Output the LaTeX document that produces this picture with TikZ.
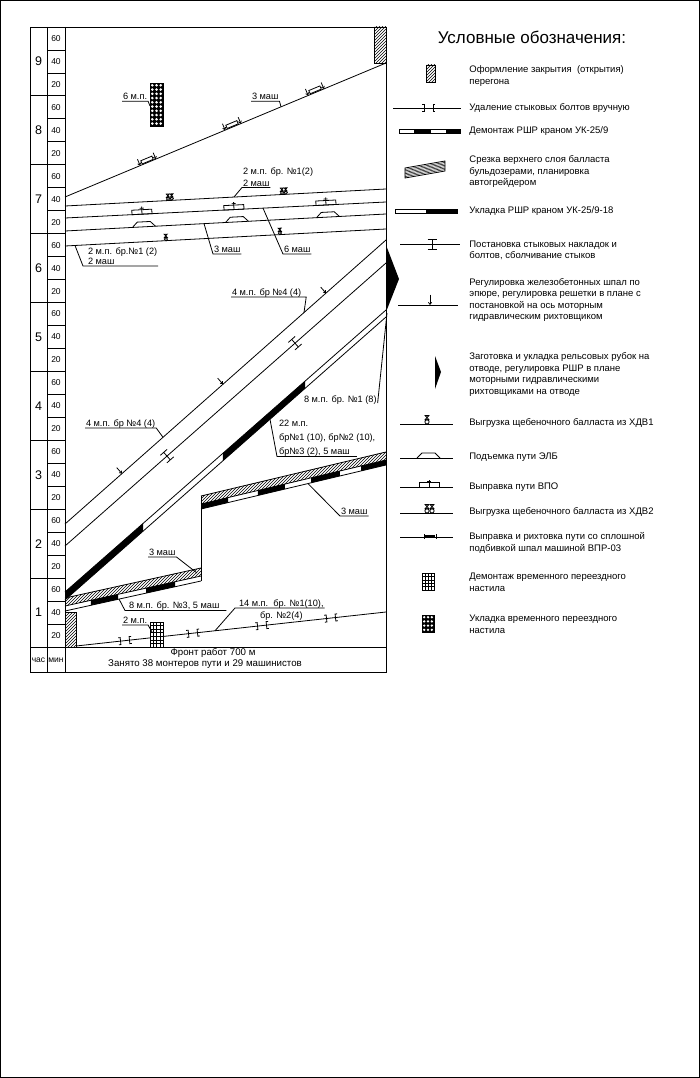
\documentclass[tikz,border=0pt]{standalone}
\usepackage{fontspec}
\setmainfont{Liberation Sans}
\usetikzlibrary{calc,patterns,arrows.meta}
\newcommand\bwseg[6]{\fill ($(#1)!#5!(#2)$) -- ($(#1)!#6!(#2)$) -- ($(#3)!#6!(#4)$) -- ($(#3)!#5!(#4)$) -- cycle;}
\tikzset{
  lbl/.style={font=\fontsize{9.2}{11}\selectfont, inner sep=0.6pt, anchor=base west},
  leg/.style={font=\fontsize{9.5}{11.5}\selectfont, inner sep=0pt, anchor=west, align=left},
  hr/.style={font=\fontsize{12.5}{14}\selectfont, inner sep=0pt},
  mn/.style={font=\fontsize{8.5}{10}\selectfont, inner sep=0pt},
  bot/.style={font=\fontsize{9.7}{11}\selectfont, inner sep=0pt},
  barb/.style={-{Straight Barb[length=2pt,width=3.2pt]}},
  pics/xdv/.style={code={
     \draw (0,-2.1) circle[radius=2.1];
     \draw (-2,-8.6) -- (2,-8.6) -- (-2,-4.2) -- (2,-4.2) -- cycle;}},
  pics/xdvtwo/.style={code={
     \foreach \s in {-2.5,2.5}{
       \draw (\s,-2.1) circle[radius=2.1];
       \draw ({\s-2},-8.6) -- ({\s+2},-8.6) -- ({\s-2},-4.2) -- ({\s+2},-4.2) -- cycle;}}},
  pics/elb/.style={code={\draw (-11.5,0) -- (-6.5,-5) -- (6.5,-5) -- (11.5,0);}},
  pics/vpo/.style={code={
     \draw (-10,0) rectangle (10,-4.5);
     \draw (0,0) -- (0,-7.5);
     \draw (-2,-6) -- (2,-6);}},
  pics/bolt/.style={code={
     \draw (-6.5,-3.5) -- (-4.5,-3.5) -- (-4.5,3.5) -- (-6.5,3.5);
     \draw (6.5,-3.5) -- (4.5,-3.5) -- (4.5,3.5) -- (6.5,3.5);}},
  pics/ibar/.style={code={
     \draw (0,-5) -- (0,5); \draw (-4.5,-5) -- (4.5,-5); \draw (-4.5,5) -- (4.5,5);}},
  pics/regarr/.style={code={\draw[barb] (0,-8) -- (0,0);}},
  pics/vprc/.style={code={
     \draw[barb] (-8.5,-7) -- (-8.5,0);
     \draw[barb] (8.5,-7) -- (8.5,0);
     \draw (-6,-0.8) rectangle (6,-4.3);}},
  pics/vprl/.style={code={
     \draw (-6,-3) -- (-6,1.5); \draw (6,-3) -- (6,1.5);
     \fill (-5,-0.2) rectangle (5,-2.2);}},
}
\begin{document}
\begin{tikzpicture}[x=1pt,y=-1pt,line width=0.8pt]
\useasboundingbox (0,0) rectangle (700,1078);
\draw[line width=0.6pt] (0.5,0.5) rectangle (699.5,1077.5);

% ---------- grid frame ----------
\draw (30,27) rectangle (386,672);
\draw (47,27) -- (47,672);
\draw (65,27) -- (65,672);
\draw (30,647) -- (386,647);
\foreach \i in {1,...,26}{\draw (47,{647-\i*22.963}) -- (65,{647-\i*22.963});}
\foreach \k in {1,...,8}{\draw (30,{647-\k*68.889}) -- (47,{647-\k*68.889});}
\foreach \k in {1,...,9}{
  \pgfmathsetmacro\yb{647-(\k-1)*68.889}
  \node[hr] (hour\k) at (38.5,{\yb-34.44}) {\k};
  \node[mn] (mA\k) at (56,{\yb-11.48}) {20};
  \node[mn] (mB\k) at (56,{\yb-34.44}) {40};
  \node[mn] (mC\k) at (56,{\yb-57.41}) {60};
}
\node[mn] (chas) at (38.5,660) {час};
\node[mn] (minut) at (56,660) {мин};
\node[bot] (front) at (213,652.5) {Фронт работ 700 м};
\node[bot] (busy) at (205,664) {Занято 38 монтеров пути и 29 машинистов};

% ---------- hatched boxes ----------
\draw[pattern=north east lines] (65,612) rectangle (76,647);
\draw[pattern=north east lines] (374,27) rectangle (386,63);

% ---------- bottom bolt line ----------
\coordinate (b0) at (76,646); \coordinate (b1) at (386,612);
\draw (b0) -- (b1);
\pic[rotate=6.26] at (125,640.6) {bolt};
\pic[rotate=6.26] at (193,633.2) {bolt};
\pic[rotate=6.26] at (262,625.6) {bolt};
\pic[rotate=6.26] at (331,618.0) {bolt};
% grid box (demontazh nastila)
\filldraw[fill=white] (150,622) rectangle (163,647);
\foreach \i in {1,2,3}{\draw[line width=0.5pt] ({150+\i*3.25},622) -- ({150+\i*3.25},647);}
\foreach \j in {1,...,6}{\draw[line width=0.5pt] (150,{622+\j*3.57}) -- (163,{622+\j*3.57});}
\node[lbl] (n2mp) at (122,623) {2 м.п.};
\draw ([yshift=-2pt]n2mp.base west) -- ([yshift=-2pt]n2mp.base east) -- (152,632);
\node[lbl] (n14a) at (238,606) {14 м.п.\ \ бр. №1(10),};
\node[lbl] (n14b) at (259,618) {бр. №2(4)};
\coordinate (p14) at (215,630.8);
\draw (p14) -- ([xshift=-3pt,yshift=-2pt]n14a.base west) -- ([yshift=-2pt]n14a.base east);

% ---------- bulldozer strips ----------
\coordinate (Dt0) at (65,598); \coordinate (Dt1) at (201,568);
\coordinate (Dm0) at (65,606); \coordinate (Dm1) at (201,576);
\coordinate (Db0) at (65,611); \coordinate (Db1) at (201,581);
\fill[pattern=north east lines] (Dt0) -- (Dt1) -- (Dm1) -- (Dm0) -- cycle;
\bwseg{Dm0}{Dm1}{Db0}{Db1}{0.191}{0.390}
\bwseg{Dm0}{Dm1}{Db0}{Db1}{0.596}{0.809}
\draw (Dt0) -- (Dt1); \draw (Dm0) -- (Dm1); \draw (Db0) -- (Db1);

\coordinate (Ut0) at (201,496); \coordinate (Ut1) at (386,452);
\coordinate (Um0) at (201,504); \coordinate (Um1) at (386,460);
\coordinate (Ub0) at (201,509); \coordinate (Ub1) at (386,465);
\fill[pattern=north east lines] (Ut0) -- (Ut1) -- (Um1) -- (Um0) -- cycle;
\bwseg{Um0}{Um1}{Ub0}{Ub1}{0}{0.146}
\bwseg{Um0}{Um1}{Ub0}{Ub1}{0.308}{0.454}
\bwseg{Um0}{Um1}{Ub0}{Ub1}{0.595}{0.751}
\bwseg{Um0}{Um1}{Ub0}{Ub1}{0.865}{1}
\draw (Ut0) -- (Ut1); \draw (Um0) -- (Um1); \draw (Ub0) -- (Ub1);
\draw (Ut0) -- (Db1);

\node[lbl] (n3m2) at (148,555) {3 маш};
\draw ([yshift=-2pt]n3m2.base west) -- ([yshift=-2pt]n3m2.base east) -- (197,573);
\node[lbl] (n8m3) at (128,608) {8 м.п. бр. №3, 5 маш};
\draw (119,599) -- ([xshift=-3pt,yshift=-2.5pt]n8m3.base west) -- ([xshift=6pt,yshift=-2.5pt]n8m3.base east);
\node[lbl] (n3m3) at (340,514) {3 маш};
\draw (308,483.6) -- ([yshift=-2pt]n3m3.base west) -- ([yshift=-2pt]n3m3.base east);

% ---------- diagonal band B ----------
\coordinate (Bu0) at (65,592); \coordinate (Bu1) at (386,310);
\coordinate (Bl0) at (65,600); \coordinate (Bl1) at (386,317);
\bwseg{Bu0}{Bu1}{Bl0}{Bl1}{0}{0.243}
\bwseg{Bu0}{Bu1}{Bl0}{Bl1}{0.492}{0.748}
\draw (Bu0) -- (Bu1); \draw (Bl0) -- (Bl1);

% ---------- pair A ----------
\coordinate (Au0) at (65,524); \coordinate (Au1) at (386,240);
\coordinate (Al0) at (65,546); \coordinate (Al1) at (386,263);
\draw (Au0) -- (Au1); \draw (Al0) -- (Al1);
\pic[rotate=41.5] at (122,473.6) {regarr};
\pic[rotate=41.5] at (223,384.2) {regarr};
\pic[rotate=41.5] at (326,293.1) {regarr};
\pic[rotate=41.4] at (167,456.1) {ibar};
\pic[rotate=41.4] at (295,343.2) {ibar};

% triangle
\fill (386,245) -- (399,279) -- (386,312) -- cycle;

\node[lbl] (nA4u) at (231,295) {4 м.п. бр №4 (4)};
\draw ([yshift=-2pt]nA4u.base west) -- ([xshift=4pt,yshift=-2pt]nA4u.base east) -- (304,312.5);
\node[lbl] (nA4l) at (85,426) {4 м.п. бр №4 (4)};
\draw ([yshift=-2pt]nA4l.base west) -- ([yshift=-2pt]nA4l.base east) -- (163,437.3);
\node[lbl] (n8mp) at (303,402) {8 м.п. бр. №1 (8)};
\draw ([yshift=-1pt]n8mp.base east) -- (387,313);
\node[lbl] (n22a) at (278,426) {22 м.п.};
\node[lbl] (n22b) at (278,440) {бр№1 (10), бр№2 (10),};
\node[lbl] (n22c) at (278,454) {бр№3 (2), 5 маш};
\draw (270,419.3) -- ([xshift=-1pt,yshift=-2.5pt]n22c.base west) -- ([xshift=6pt,yshift=-2.5pt]n22c.base east);

% ---------- hour 7 band ----------
\coordinate (L10) at (65,206); \coordinate (L11) at (386,189);
\coordinate (L20) at (65,218); \coordinate (L21) at (386,202);
\coordinate (L30) at (65,231); \coordinate (L31) at (386,214);
\coordinate (L40) at (65,246); \coordinate (L41) at (386,229);
\draw (L10) -- (L11); \draw (L20) -- (L21); \draw (L30) -- (L31); \draw (L40) -- (L41);
\pic[rotate=3,scale=0.75] at (170,200.4) {xdvtwo};
\pic[rotate=3,scale=0.75] at (284,194.4) {xdvtwo};
\pic[rotate=3] at (142,214.2) {vpo};
\pic[rotate=3] at (234,209.6) {vpo};
\pic[rotate=3] at (326,205.0) {vpo};
\pic[rotate=3] at (144,226.8) {elb};
\pic[rotate=3] at (237,221.9) {elb};
\pic[rotate=3] at (328,217.1) {elb};
\pic[rotate=3,scale=0.75] at (166,240.7) {xdv};
\pic[rotate=3,scale=0.75] at (280,234.6) {xdv};

\node[lbl] (nA1) at (242,174.3) {2 м.п. бр. №1(2)};
\node[lbl] (nA2) at (242,186) {2 маш};
\draw (234,197) -- ([yshift=-1.5pt]nA2.base west) -- ([yshift=-1.5pt]nA2.base east);
\node[lbl] (nB1) at (87,254) {2 м.п. бр.№1 (2)};
\node[lbl] (nB2) at (87,264) {2 маш};
\draw (75,245.5) -- ([xshift=-4pt,yshift=-2pt]nB2.base west) -- ([yshift=-2pt]nB2.base west -| nB1.base east);
\node[lbl] (n3m7) at (213,252) {3 маш};
\draw (204,223.6) -- ([yshift=-2pt]n3m7.base west) -- ([yshift=-2pt]n3m7.base east);
\node[lbl] (n6m7) at (283,252) {6 маш};
\draw (263,208.1) -- ([yshift=-2pt]n6m7.base west) -- ([yshift=-2pt]n6m7.base east);

% ---------- top diagonal ----------
\coordinate (T0) at (65,197); \coordinate (T1) at (386,63);
\draw (T0) -- (T1);
\pic[rotate=22.66] at (148,162.4) {vprc};
\pic[rotate=22.66] at (233,126.9) {vprc};
\pic[rotate=22.66] at (316,92.2) {vprc};
\node[lbl] (n3top) at (251,99.3) {3 маш};
\draw ([yshift=-2pt]n3top.base west) -- ([yshift=-2pt]n3top.base east) -- (281,106.8);
% dotted box (ukladka nastila)
\fill (150,83) rectangle (163,126);
\foreach \c in {152.3,156.5,160.7}{\foreach \r in {0,...,9}{\fill[white] (\c,{85.3+\r*4.25}) circle[radius=1.45];}}
\draw (150,83) rectangle (163,126);
\node[lbl] (n6mp) at (122,99.3) {6 м.п.};
\draw ([yshift=-2pt]n6mp.base west) -- ([yshift=-2pt]n6mp.base east) -- (150,106);

% ---------- legend ----------
\node[font=\fontsize{17}{20}\selectfont, inner sep=0pt] (title) at (532,37) {Условные обозначения:};

\draw[pattern=north east lines] (426,65) rectangle (435,82);
\node[leg] (e1) at (469,76) {Оформление закрытия\ \ (открытия)\\перегона};

\draw (393,108) -- (461,108);
\pic at (428.5,108) {bolt};
\node[leg] (e2) at (469,108) {Удаление стыковых болтов вручную};

\draw (399,129.5) rectangle (460,133.5);
\fill (414,129.5) rectangle (431,133.5);
\fill (446,129.5) rectangle (460,133.5);
\node[leg] (e3) at (469,131) {Демонтаж РШР краном УК-25/9};

\draw (405,168) -- (445,161) -- (445,171) -- (405,178) -- cycle;
\foreach \i in {1,...,6}{\draw[line width=0.5pt] (405,{168+\i*10/7}) -- (445,{161+\i*10/7});}
\node[leg] (e4) at (469,172) {Срезка верхнего слоя балласта\\бульдозерами, планировка\\автогрейдером};

\draw (395,209) rectangle (457,213);
\fill (426,209) rectangle (457,213);
\node[leg] (e5) at (469,211) {Укладка РШР краном УК-25/9-18};

\draw (400,244) -- (460,244);
\pic at (432,244) {ibar};
\node[leg] (e6) at (469,250.5) {Постановка стыковых накладок и\\болтов, сболчивание стыков};

\draw (398,305) -- (458,305);
\pic[scale=1.3] at (430,305) {regarr};
\node[leg] (e7) at (469,300) {Регулировка железобетонных шпал по\\эпюре, регулировка решетки в плане с\\постановкой на ось моторным\\гидравлическим рихтовщиком};

\fill (435,356) -- (441,372) -- (435,389) -- cycle;
\node[leg] (e8) at (469,374.5) {Заготовка и укладка рельсовых рубок на\\отводе, регулировка РШР в плане\\моторными гидравлическими\\рихтовщиками на отводе};

\draw (400,424) -- (453,424);
\pic at (427,424) {xdv};
\node[leg] (e9) at (469,423) {Выгрузка щебеночного балласта из ХДВ1};

\draw (400,458) -- (453,458);
\pic at (428.5,458) {elb};
\node[leg] (e10) at (469,457) {Подъемка пути ЭЛБ};

\draw (400,487) -- (453,487);
\pic at (429,487) {vpo};
\node[leg] (e11) at (469,487) {Выправка пути ВПО};

\draw (400,513) -- (453,513);
\pic at (429.5,513) {xdvtwo};
\node[leg] (e12) at (469,512) {Выгрузка щебеночного балласта из ХДВ2};

\draw (400,537) -- (453,537);
\pic at (430,537) {vprl};
\node[leg] (e13) at (469,543) {Выправка и рихтовка пути со сплошной\\подбивкой шпал машиной ВПР-03};

\filldraw[fill=white] (422,573) rectangle (434,590);
\foreach \i in {1,2,3}{\draw[line width=0.5pt] ({422+\i*3},573) -- ({422+\i*3},590);}
\foreach \j in {1,...,4}{\draw[line width=0.5pt] (422,{573+\j*3.4}) -- (434,{573+\j*3.4});}
\node[leg] (e14) at (469,582.5) {Демонтаж временного переездного\\настила};

\fill (422,615) rectangle (434,632);
\foreach \c in {424.2,428,431.8}{\foreach \r in {0,...,3}{\fill[white] (\c,{617.2+\r*4.2}) circle[radius=1.3];}}
\draw (422,615) rectangle (434,632);
\node[leg] (e15) at (469,624.5) {Укладка временного переездного\\настила};
\end{tikzpicture}
\end{document}
